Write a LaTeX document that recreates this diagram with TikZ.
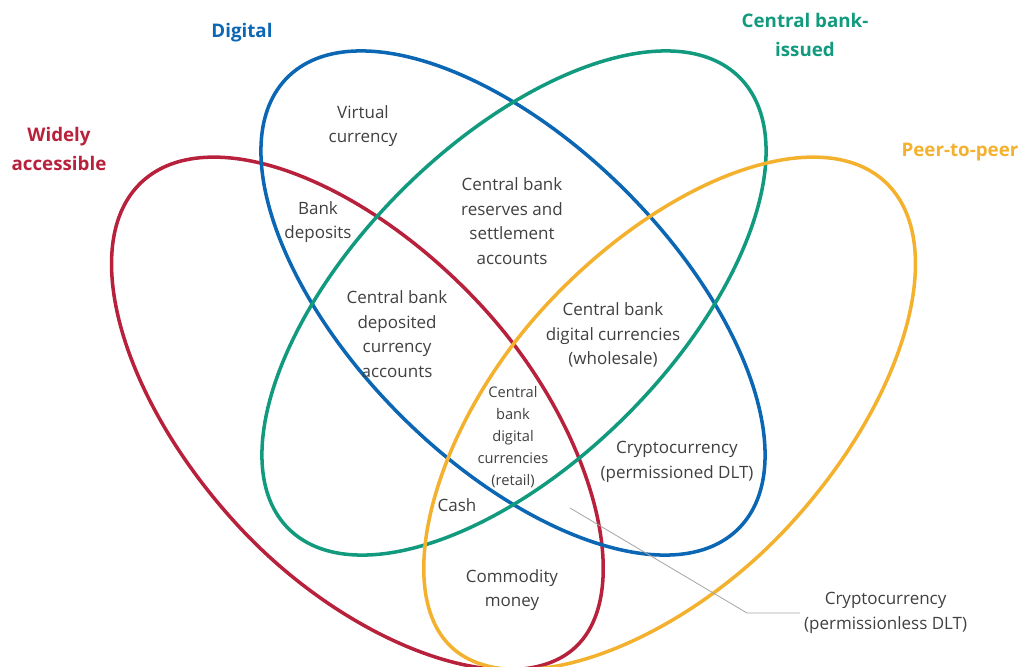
\documentclass[tikz,border=0pt]{standalone}
\usepackage{fontspec}
\setmainfont{Open Sans}
\usepackage{tikz}

\definecolor{wred}{HTML}{B8213B}
\definecolor{dblue}{HTML}{0B66B3}
\definecolor{cbgreen}{HTML}{129A7F}
\definecolor{ppyellow}{HTML}{F3B12E}
\definecolor{txtgray}{HTML}{404040}

% red petal is an egg: blunt end up left, narrow end down right
\newcommand{\petalwide}{(316,0) .. controls (316,84) and (165,164) .. (0,164)
  .. controls (-176,164) and (-320,89) .. (-320,0)
  .. controls (-320,-89) and (-176,-164) .. (0,-164)
  .. controls (165,-164) and (316,-84) .. cycle}

\tikzset{
  petal/.style={line width=3pt},
  body/.style={align=center, text=txtgray, font=\fontsize{14.5}{21}\selectfont},
  small/.style={align=center, text=txtgray, font=\fontsize{12.5}{18.7}\selectfont},
  title/.style={align=center, font=\bfseries\fontsize{16}{24}\selectfont},
  leader/.style={draw=gray!70, line width=0.7pt}
}

\begin{document}
\begin{tikzpicture}[x=0.3mm, y=-0.3mm]
  \useasboundingbox (0,0) rectangle (1029,666);

  \draw[petal, wred, shift={(360,416)}, rotate=-47] \petalwide;
  \draw[petal, dblue, shift={(513,303)}, rotate=-45] (0,0) ellipse [x radius=319, y radius=159];
  % green and yellow: mirror images about x = 513.5
  \begin{scope}[shift={(1027,0)}, xscale=-1]
    \draw[petal, cbgreen, shift={(513,303)}, rotate=-45] (0,0) ellipse [x radius=319, y radius=159];
    \draw[petal, ppyellow, shift={(360,416)}, rotate=-47] \petalwide;
  \end{scope}

  \node[title, text=wred] (twide) at (59,149) {Widely\\accessible};
  \node[title, text=dblue] (tdigital) at (242,33) {Digital};
  \node[title, text=cbgreen] (tissued) at (805,35) {Central bank-\\issued};
  \node[title, text=ppyellow] (tpeer) at (960,152) {Peer-to-peer};

  \node[body] (virtual) at (363,126) {Virtual\\currency};
  \node[body] (bankdep) at (318,222) {Bank\\deposits};
  \node[body] (reserves) at (512,221) {Central bank\\reserves and\\settlement\\accounts};
  \node[body] (deposited) at (397,334) {Central bank\\deposited\\currency\\accounts};
  \node[body] (wholesale) at (613,335) {Central bank\\digital currencies\\(wholesale)};
  \node[small] (retail) at (513,437) {Central\\bank\\digital\\currencies\\(retail)};
  \node[body] (crypned) at (677,462) {Cryptocurrency\\(permissioned DLT)};
  \node[body] (cash) at (457,505) {Cash};
  \node[body] (commodity) at (512,590) {Commodity\\money};
  \node[body, anchor=west] (crypless) at (800,613) {Cryptocurrency\\(permissionless DLT)};

  \coordinate (ptr) at (570,508);
  \draw[leader] (ptr) -- ++(177,105) -- (crypless.west);
\end{tikzpicture}
\end{document}
